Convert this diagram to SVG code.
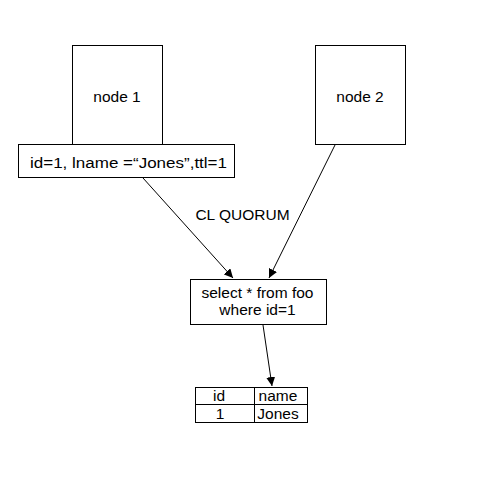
<svg xmlns="http://www.w3.org/2000/svg" width="477" height="495" viewBox="0 0 477 495">
<style>
rect{fill:#fff;stroke:#000;stroke-width:1}
text{font-family:"Liberation Sans",Arial,sans-serif;font-size:15.5px;fill:#000;text-anchor:middle}
.c line{stroke:#000;stroke-width:1}
</style>
<defs><marker id="a" viewBox="0 0 10 10" refX="10" refY="5" markerWidth="9" markerHeight="9" orient="auto" markerUnits="userSpaceOnUse"><path d="M0,0L10,5L0,10z" fill="#000"/></marker></defs>
<rect width="477" height="495" style="stroke:none"/>
<g id="node1"><rect x="72.5" y="45.5" width="90" height="99"/><text x="117" y="102">node 1</text></g>
<g id="node2"><rect x="315.5" y="45.5" width="90" height="99"/><text x="360" y="102">node 2</text></g>
<g id="row"><rect x="18.5" y="144.5" width="216" height="33"/><text x="128.5" y="168" textLength="197" lengthAdjust="spacingAndGlyphs">id=1, lname =“Jones”,ttl=1</text></g>
<g id="query"><rect x="190.5" y="279.5" width="136" height="45"/><text x="257.5" y="298">select * from foo</text><text x="257.5" y="315">where id=1</text></g>
<g id="result"><rect x="195.5" y="387.5" width="112" height="35"/><line x1="195.5" y1="404.5" x2="307.5" y2="404.5" stroke="#000"/><line x1="254.5" y1="387.5" x2="254.5" y2="422.5" stroke="#000"/><text x="219" y="401">id</text><text x="278" y="401">name</text><text x="220" y="419">1</text><text x="278" y="419">Jones</text></g>
<g class="c" id="connectors">
<line x1="143" y1="178" x2="233" y2="278" marker-end="url(#a)"/>
<line x1="335" y1="145" x2="269" y2="278" marker-end="url(#a)"/>
<line x1="263" y1="325" x2="272" y2="386" marker-end="url(#a)"/>
</g>
<text x="242.5" y="220">CL QUORUM</text>
</svg>
